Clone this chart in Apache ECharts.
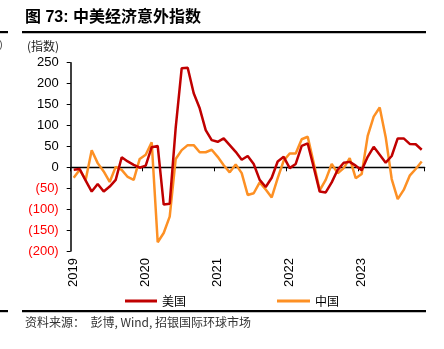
<!DOCTYPE html>
<html>
<head>
<meta charset="utf-8">
<script src="https://cdn.jsdelivr.net/npm/echarts@6/dist/echarts.min.js"></script>
<style>
html,body{margin:0;padding:0;background:#fff;}
#c{width:444px;height:349px;}
</style>
</head>
<body>
<div id="c"></div>
<script>
// Monthly categories Jan 2019 - Nov 2023
const years = ['2019', '2020', '2021', '2022', '2023'];
const categories = [];
years.forEach(function (y) {
  for (let m = 1; m <= 12; m++) {
    if (y === '2023' && m === 12) break;
    categories.push(y + '-' + (m < 10 ? '0' + m : m));
  }
});

// US economic surprise index (monthly)
const usValues = [
  -6, -4, -32, -58, -40, -58, -46, -30, 24, 14, 6, -1,
  4, 48, 51, -89, -87, 95, 237, 238, 177, 141, 89, 65,
  61, 69, 53, 37, 18, 27, 8, -30, -47, -25, 14, 25,
  -2, 8, 51, 57, 0, -58, -60, -36, -6, 11, 13, 4,
  -7, 25, 49, 30, 11, 27, 69, 69, 56, 55, 42
];

// China economic surprise index (monthly)
const cnValues = [
  -25, -6, -30, 41, 10, -10, -35, 1, -6, -23, -30, 20,
  30, 60, -179, -157, -118, 20, 41, 53, 53, 36, 36, 42,
  25, 5, -12, 7, -14, -66, -62, -36, -53, -72, -26, 16,
  33, 33, 67, 73, 10, -55, -30, 8, -14, -2, 22, -26,
  -16, 75, 121, 143, 72, -28, -76, -54, -20, -4, 14
];

const yTicks = { min: -200, max: 250, interval: 50 };

const chart = echarts.init(document.getElementById('c'), null, { renderer: 'canvas' });

const fontLatin = 'Liberation Sans, Arial, "Noto Sans CJK SC", sans-serif';
const fontCJK = '"Noto Sans CJK SC", "Liberation Sans", sans-serif';

chart.setOption({
  animation: false,
  backgroundColor: '#fff',
  grid: { left: 70.7, right: 19.3, top: 62.7, bottom: 98 },
  xAxis: [
    {
      type: 'category',
      data: categories,
      boundaryGap: true,
      axisLine: { show: true, onZero: true, lineStyle: { color: '#000', width: 1.3 } },
      axisTick: { show: true, length: 4, interval: function (i) { return i % 12 === 0; }, lineStyle: { color: '#000', width: 1 } },
      axisLabel: { show: false },
      splitLine: { show: false }
    },
    {
      type: 'category',
      data: categories,
      boundaryGap: true,
      position: 'bottom',
      axisLine: { show: false, onZero: false },
      axisTick: { show: false },
      axisLabel: {
        show: true,
        interval: function (i) { return i % 12 === 0; },
        formatter: function (v) { return v.slice(0, 4); },
        rotate: 90,
        margin: 7,
        fontSize: 13,
        fontFamily: fontLatin,
        color: '#000'
      },
      splitLine: { show: false }
    }
  ],
  yAxis: {
    type: 'value',
    min: yTicks.min,
    max: yTicks.max,
    interval: yTicks.interval,
    axisLine: { show: true, onZero: false, lineStyle: { color: '#000', width: 1.5 } },
    axisTick: { show: true, length: 4, lineStyle: { color: '#000', width: 1 } },
    splitLine: { show: false },
    axisLabel: {
      margin: 12,
      fontSize: 13,
      fontFamily: fontLatin,
      formatter: function (v) { return v < 0 ? '(' + (-v) + ')' : String(v); },
      color: function (v) { return Number(v) < 0 ? '#ff0000' : '#000'; }
    }
  },
  legend: [
    {
      data: ['美国'], left: 120, top: 290, icon: 'rect', itemWidth: 32, itemHeight: 3, itemGap: 6,
      textStyle: { fontSize: 12, fontFamily: fontCJK, color: '#000' }
    },
    {
      data: ['中国'], left: 272, top: 290, icon: 'rect', itemWidth: 33, itemHeight: 3, itemGap: 6,
      textStyle: { fontSize: 12, fontFamily: fontCJK, color: '#000' }
    }
  ],
  series: [
    {
      name: '美国', type: 'line', data: usValues, xAxisIndex: 0,
      symbol: 'none', lineStyle: { color: '#c00000', width: 2.5 }, itemStyle: { color: '#c00000' }, z: 3
    },
    {
      name: '中国', type: 'line', data: cnValues, xAxisIndex: 0,
      symbol: 'none', lineStyle: { color: '#fd9024', width: 2.5 }, itemStyle: { color: '#fd9024' }, z: 2
    }
  ],
  graphic: [
    { type: 'text', left: 25, top: 10, style: { text: '图 73: 中美经济意外指数', font: 'bold 16px ' + fontLatin, fill: '#000' } },
    { type: 'rect', shape: { x: 22, y: 31, width: 404, height: 2.2 }, style: { fill: '#000' } },
    { type: 'rect', shape: { x: 0, y: 31, width: 8, height: 2.2 }, style: { fill: '#000' } },
    { type: 'text', left: 27, top: 40, style: { text: '(指数)', font: '12px ' + fontCJK, fill: '#222' } },
    { type: 'text', x: -1, y: 39, style: { text: ')', font: '11px ' + fontLatin, fill: '#555' } },
    { type: 'rect', shape: { x: 22, y: 310, width: 404, height: 2.2 }, style: { fill: '#000' } },
    { type: 'rect', shape: { x: 0, y: 310, width: 8, height: 2.2 }, style: { fill: '#000' } },
    { type: 'text', left: 25, top: 316, style: { text: '资料来源：  彭博, Wind, 招银国际环球市场', font: '12px ' + fontCJK, fill: '#333' } }
  ]
});
</script>
</body>
</html>
